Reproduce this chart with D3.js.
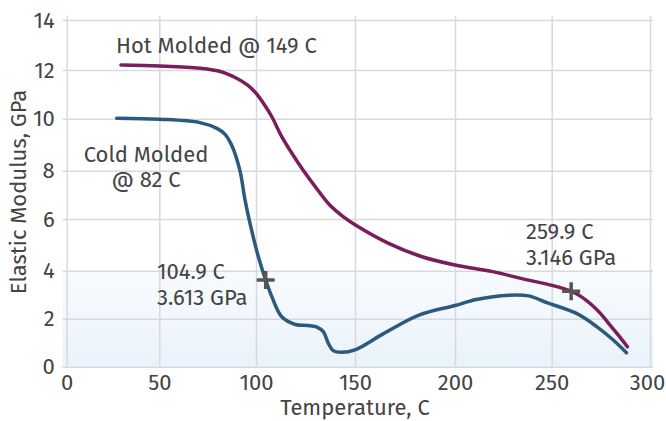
<!DOCTYPE html>
<html>
<head>
<meta charset="utf-8">
<script src="https://cdn.jsdelivr.net/npm/d3@7"></script>
<style>
  body { margin: 0; background: #fff; }
  text { font-family: "Fira Sans", "Noto Sans", sans-serif; fill: #444; }
</style>
</head>
<body>
<div id="chart"></div>
<script>
// chart values
var xTicks = [0, 50, 100, 150, 200, 250, 300];
var yTicks = [0, 2, 4, 6, 8, 10, 12, 14];

var coldTemp    = [27, 50, 71, 80, 84, 87.6, 91.7, 94.3, 96.9, 101.2, 104.9, 108, 113, 119.9, 126, 130.5, 134, 136.5, 139, 143.3, 150, 164.5, 182, 200, 211, 228, 238, 247.8, 262.6, 272.9, 281.3, 288];
var coldModulus = [10.02, 9.98, 9.85, 9.62, 9.4, 8.95, 8.0, 6.8, 5.83, 4.54, 3.61, 2.92, 2.08, 1.76, 1.72, 1.66, 1.46, 0.98, 0.67, 0.6, 0.7, 1.39, 2.15, 2.55, 2.8, 2.98, 2.95, 2.66, 2.22, 1.67, 1.11, 0.58];

var hotTemp    = [29.3, 50, 71, 82, 90, 96, 100, 104, 108, 113, 121.5, 129.9, 137, 144, 150, 166.8, 183.5, 200, 219.5, 236.2, 251.1, 259.9, 265, 270, 275, 280, 285, 288.5];
var hotModulus = [12.2, 12.16, 12.07, 11.93, 11.66, 11.36, 11.05, 10.6, 10.08, 9.31, 8.28, 7.34, 6.6, 6.1, 5.78, 5.06, 4.54, 4.22, 3.96, 3.64, 3.37, 3.146, 2.92, 2.6, 2.2, 1.7, 1.2, 0.83];

var markerTemp    = [104.9, 259.9];
var markerModulus = [3.613, 3.146];
var markerText    = [['104.9 C', '3.613 GPa'], ['259.9 C', '3.146 GPa']];
var seriesNames   = [['Hot Molded @ 149 C'], ['Cold Molded', '@ 82 C']];
var xTitle = 'Temperature, C';
var yTitle = 'Elastic Modulus, GPa';

// set up svg
var svgWidth = 666;
var svgHeight = 421;

var svg = d3.select('#chart')
  .append('svg')
  .attr('width', svgWidth)
  .attr('height', svgHeight);

// scales (grid spacing in the original is slightly uneven)
var x = d3.scaleLinear()
  .domain(xTicks)
  .range([66.7, 159.3, 256, 355, 455, 551.7, 650]);

var y = d3.scaleLinear()
  .domain(yTicks)
  .range([366.7, 318.7, 270.7, 219, 170.7, 118.7, 70, 20]);

// light blue band at the bottom
var defs = svg.append('defs');
var grad = defs.append('linearGradient')
  .attr('id', 'band')
  .attr('x1', 0).attr('y1', 0).attr('x2', 0).attr('y2', 1);
grad.append('stop').attr('offset', '0%').attr('stop-color', '#f8fbfe');
grad.append('stop').attr('offset', '100%').attr('stop-color', '#e9f3fb');

svg.append('rect')
  .attr('x', x(0) - 4)
  .attr('y', y(4))
  .attr('width', x(300) - x(0) + 7)
  .attr('height', y(0) - y(4))
  .attr('fill', 'url(#band)');

// grid via axes
var leftAxis = d3.axisLeft(y).tickValues(yTicks).tickSize(0).tickPadding(12);
var bottomAxis = d3.axisBottom(x).tickValues(xTicks).tickSize(0).tickPadding(8);

var gy = svg.append('g')
  .attr('transform', `translate(${x(0)}, 0)`)
  .call(leftAxis);
gy.select('.domain').remove();
gy.selectAll('.tick line')
  .attr('x1', -4)
  .attr('x2', x(300) - x(0) + 3)
  .attr('stroke', '#d8d9de')
  .attr('stroke-width', 1.5);
gy.selectAll('.tick text')
  .style('font-size', '22px')
  .attr('fill', '#444');

var gx = svg.append('g')
  .attr('transform', `translate(0, ${y(0)})`)
  .call(bottomAxis);
gx.select('.domain').remove();
gx.selectAll('.tick line')
  .attr('y1', 0)
  .attr('y2', y(14) - y(0) - 4)
  .attr('stroke', '#d8d9de')
  .attr('stroke-width', 1.5);
gx.selectAll('.tick text')
  .style('font-size', '22px')
  .attr('fill', '#444')
  .attr('dx', d => d === 300 ? -3 : 0);

// lines
var line = d3.line()
  .x(d => x(d[0]))
  .y(d => y(d[1]))
  .curve(d3.curveCatmullRom.alpha(0.5));

var hotData = hotTemp.map((t, i) => [t, hotModulus[i]]);
var coldData = coldTemp.map((t, i) => [t, coldModulus[i]]);

svg.append('path')
  .datum(hotData)
  .attr('d', line)
  .attr('fill', 'none')
  .attr('stroke', '#7a1d5d')
  .attr('stroke-width', 3.5)
  .attr('stroke-linecap', 'round');

svg.append('path')
  .datum(coldData)
  .attr('d', line)
  .attr('fill', 'none')
  .attr('stroke', '#2d5a7c')
  .attr('stroke-width', 3.5)
  .attr('stroke-linecap', 'round');

// markers
svg.selectAll('.marker')
  .data(markerTemp.map((t, i) => [t, markerModulus[i]]))
  .enter()
  .append('path')
  .attr('class', 'marker')
  .attr('d', d => {
    var cx = x(d[0]), cy = y(d[1]), r = 9;
    return `M${cx - r},${cy}H${cx + r}M${cx},${cy - r}V${cy + r}`;
  })
  .attr('stroke', '#555')
  .attr('stroke-width', 3.5);

// annotation text
var annot = svg.append('g').style('font-size', '22px');

annot.append('text')
  .attr('x', 116)
  .attr('y', 53)
  .text(seriesNames[0][0]);

annot.append('text')
  .attr('text-anchor', 'middle')
  .selectAll('tspan')
  .data(seriesNames[1])
  .enter()
  .append('tspan')
  .attr('x', 146)
  .attr('y', (d, i) => 162 + i * 25)
  .text(d => d);

var labelPos = [[157, 279], [526, 239]];
markerText.forEach(function(lines, k) {
  annot.append('text')
    .selectAll('tspan')
    .data(lines)
    .enter()
    .append('tspan')
    .attr('x', labelPos[k][0])
    .attr('y', (d, i) => labelPos[k][1] + i * 26)
    .text(d => d);
});

// axis titles
svg.append('text')
  .attr('transform', 'rotate(-90)')
  .attr('x', -192)
  .attr('y', 26)
  .attr('text-anchor', 'middle')
  .style('font-size', '22px')
  .text(yTitle);

svg.append('text')
  .attr('x', 355)
  .attr('y', 415)
  .attr('text-anchor', 'middle')
  .style('font-size', '22px')
  .text(xTitle);
</script>
</body>
</html>
